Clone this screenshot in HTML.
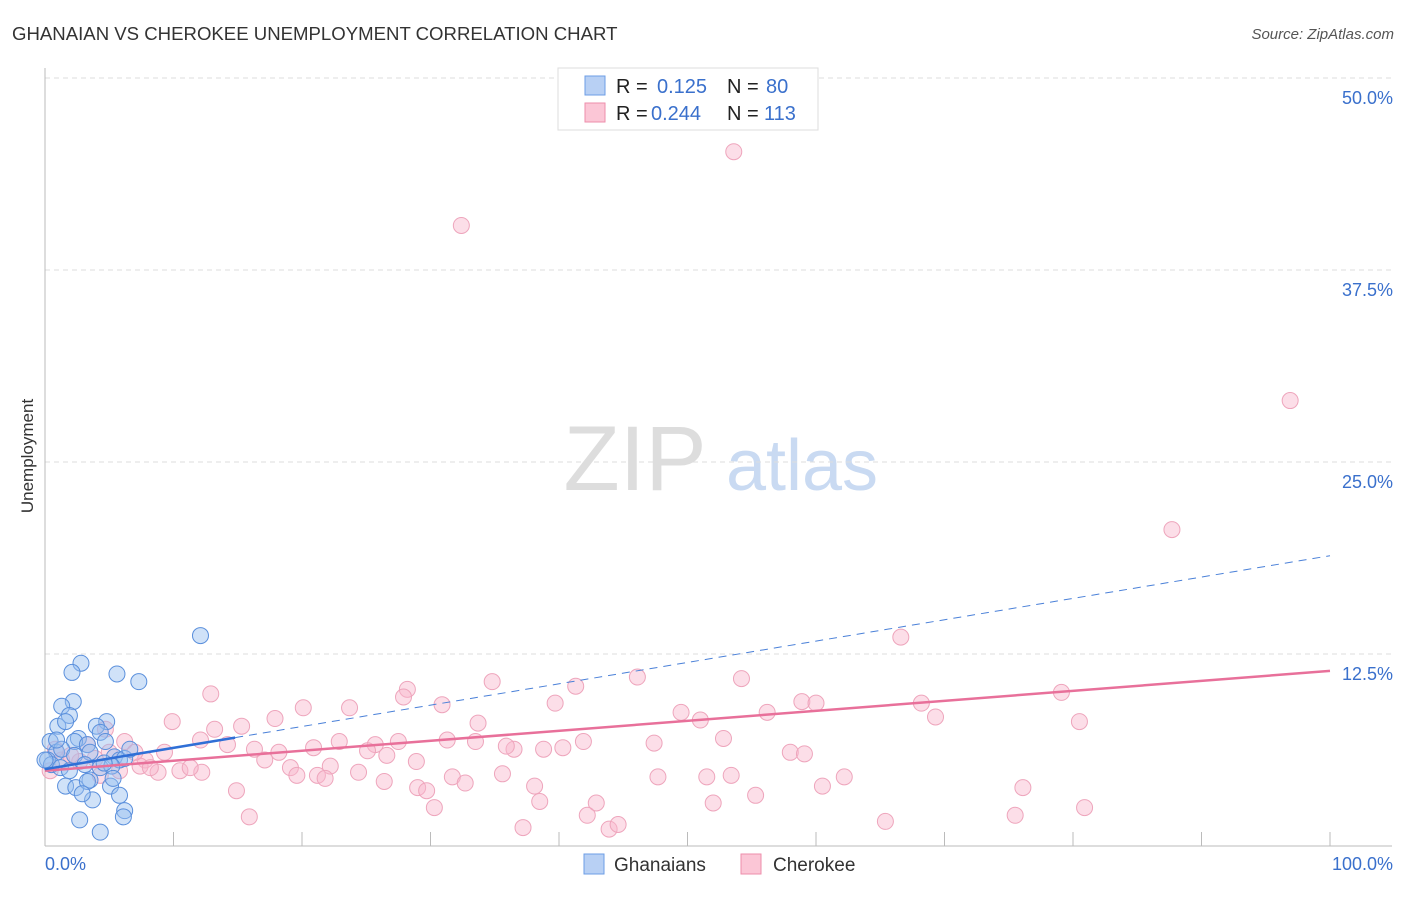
<!DOCTYPE html>
<html><head><meta charset="utf-8"><style>
body{margin:0;background:#fff;font-family:"Liberation Sans",sans-serif}
svg text{font-family:"Liberation Sans",sans-serif}
</style></head><body>
<svg width="1406" height="892" viewBox="0 0 1406 892">
<text x="12" y="40" font-size="18.6" fill="#333">GHANAIAN VS CHEROKEE UNEMPLOYMENT CORRELATION CHART</text>
<text x="1394" y="39" font-size="15" fill="#555" font-style="italic" text-anchor="end">Source: ZipAtlas.com</text>
<text x="33" y="456" font-size="17" fill="#333" transform="rotate(-90 33 456)" text-anchor="middle">Unemployment</text>
<g><text x="635" y="490" font-size="92" fill="#ddd" font-family="Liberation Serif" text-anchor="middle">ZIP</text><text x="802" y="490" font-size="72" fill="#c9daf2" text-anchor="middle">atlas</text></g>
<g id="grid"></g><g id="axes"></g><g id="pts"></g><g id="lines"></g>
<g>
<rect x="558" y="68" width="260" height="62" fill="#fff" stroke="#ddd"/>
<rect x="585" y="76" width="20" height="19" fill="#b8d0f4" stroke="#6c9ee6"/>
<rect x="585" y="103" width="20" height="19" fill="#fbc6d6" stroke="#ee8eab"/>
<text x="616" y="93" font-size="20" fill="#222">R = </text><text x="657" y="93" font-size="20" fill="#3a70cc">0.125</text>
<text x="727" y="93" font-size="20" fill="#222">N = </text><text x="766" y="93" font-size="20" fill="#3a70cc">80</text>
<text x="616" y="120" font-size="20" fill="#222">R = </text><text x="651" y="120" font-size="20" fill="#3a70cc">0.244</text>
<text x="727" y="120" font-size="20" fill="#222">N = </text><text x="764" y="120" font-size="20" fill="#3a70cc">113</text>
</g>
<g>
<rect x="584" y="854" width="20" height="20" fill="#b8d0f4" stroke="#6c9ee6"/><text x="614" y="871" font-size="19" fill="#333">Ghanaians</text>
<rect x="741" y="854" width="20" height="20" fill="#fbc6d6" stroke="#ee8eab"/><text x="773" y="871" font-size="19" fill="#333">Cherokee</text>
</g>
</svg>
<script>
const yTicks=[12.5,25,37.5,50];
const yTickLabels=["12.5%","25.0%","37.5%","50.0%"];
const xTickVals=[0,10,20,30,40,50,60,70,80,90,100];
const blueX=[12.1,2.8,2.1,5.6,7.3,2.2,1.3,1.9,4.8,4.0,1.0,1.6,4.3,2.6,2.3,3.3,4.7,0.4,0.9,1.3,2.3,3.5,5.4,5.8,6.2,0.2,0.5,1.2,1.9,3.1,4.3,5.2,1.6,2.4,3.5,3.3,5.1,4.6,3.7,5.8,6.2,6.1,2.7,4.3,5.3,2.9,0.9,0,6.6];
const blueY=[13.7,11.9,11.3,11.2,10.7,9.4,9.1,8.5,8.1,7.8,7.8,8.1,7.4,7.0,6.8,6.6,6.8,6.8,6.1,6.3,5.9,6.1,5.8,5.6,5.7,5.6,5.3,5.1,4.9,5.3,5.1,5.2,3.9,3.8,4.3,4.2,3.9,5.4,3.0,3.3,2.3,1.9,1.7,0.9,4.4,3.4,6.9,5.6,6.3];
const pinkX=[53.6,32.4,96.9,87.7,66.6,34.8,41.3,46.1,54.2,28.2,12.9,20.1,23.7,30.9,39.7,27.9,58.9,60.0,68.2,79.1,80.5,69.3,9.9,17.9,15.3,13.2,33.7,49.5,51.0,56.2,52.8,47.4,41.9,40.3,38.8,36.5,35.9,33.5,31.3,27.5,25.7,25.1,22.9,20.9,18.2,16.3,14.2,9.3,6.2,58.0,59.1,17.1,22.2,26.6,28.9,31.7,32.7,35.6,38.1,24.4,21.2,19.1,19.6,21.8,26.4,29.0,29.7,47.7,51.5,53.4,55.3,60.5,62.2,76.1,14.9,12.2,10.5,8.8,11.3,7.8,7.4,5.0,3.9,2.7,1.3,0.4,2.0,30.3,38.5,42.9,52.0,80.9,15.9,37.2,42.2,43.9,44.6,65.4,75.5,4.3,5.8,0.8,3.3,7.0,8.2,12.1,4.7];
const pinkY=[45.2,40.4,29.0,20.6,13.6,10.7,10.4,11.0,10.9,10.2,9.9,9.0,9.0,9.2,9.3,9.7,9.4,9.3,9.3,10.0,8.1,8.4,8.1,8.3,7.8,7.6,8.0,8.7,8.2,8.7,7.0,6.7,6.8,6.4,6.3,6.3,6.5,6.8,6.9,6.8,6.6,6.2,6.8,6.4,6.1,6.3,6.6,6.1,6.8,6.1,6.0,5.6,5.2,5.9,5.5,4.5,4.1,4.7,3.9,4.8,4.6,5.1,4.6,4.4,4.2,3.8,3.6,4.5,4.5,4.6,3.3,3.9,4.5,3.8,3.6,4.8,4.9,4.8,5.1,5.6,5.2,6.1,5.7,5.5,5.6,4.9,5.9,2.5,2.9,2.8,2.8,2.5,1.9,1.2,2.0,1.1,1.4,1.6,2.0,4.6,4.9,6.3,6.6,6.1,5.1,6.9,7.6];
const pinkTrend=[4.9,11.4];
const blueTrend=[5.0,18.9];
const NS="http://www.w3.org/2000/svg";
const sx=v=>45+v*12.85, sy=v=>846-v*15.36;
function mk(t,a,p){const e=document.createElementNS(NS,t);for(const k in a)e.setAttribute(k,a[k]);document.getElementById(p).appendChild(e);return e;}
yTicks.forEach((v,i)=>{
 const l=mk('line',{x1:45,x2:1392,y1:sy(v),y2:sy(v),stroke:'#ddd','stroke-dasharray':'5,4'},'grid');
 
 
 const t=mk('text',{x:1393,y:sy(v)+26,'font-size':18,fill:'#3a70cc','text-anchor':'end'},'grid');
 t.textContent=yTickLabels[i];
 
 
});
const ax=mk('line',{x1:45,x2:45,y1:68,y2:846,stroke:'#bbb'},'axes');


const bx=mk('line',{x1:45,x2:1392,y1:846,y2:846,stroke:'#bbb'},'axes');


xTickVals.forEach(v=>{const l=mk('line',{x1:sx(v),x2:sx(v),y1:832,y2:846,stroke:'#bbb'},'axes');
 
 });
const x0=mk('text',{x:45,y:870,'font-size':18,fill:'#3a70cc'},'axes');x0.textContent='0.0%';


const x1=mk('text',{x:1393,y:870,'font-size':18,fill:'#3a70cc','text-anchor':'end'},'axes');x1.textContent='100.0%';


pinkX.forEach((v,i)=>{const c=mk('circle',{cx:sx(v),cy:sy(pinkY[i]),r:8,fill:'rgba(248,182,204,0.45)',stroke:'#eea5bc','stroke-width':1},'pts');
 
 });
blueX.forEach((v,i)=>{const c=mk('circle',{cx:sx(v),cy:sy(blueY[i]),r:8,fill:'rgba(150,190,240,0.45)',stroke:'#5a8fdc','stroke-width':1},'pts');
 
 });
const pl=mk('line',{x1:sx(0),y1:sy(pinkTrend[0]),x2:sx(100),y2:sy(pinkTrend[1]),stroke:'#e8709a','stroke-width':2.5},'lines');


const bxe=14.8, byAt=v=>blueTrend[0]+(blueTrend[1]-blueTrend[0])*v/100;
const bd=mk('line',{x1:sx(bxe),y1:sy(byAt(bxe)),x2:sx(100),y2:sy(blueTrend[1]),stroke:'#4a80d8','stroke-width':1,'stroke-dasharray':'8,6'},'lines');


const bl=mk('line',{x1:sx(0),y1:sy(blueTrend[0]),x2:sx(bxe),y2:sy(byAt(bxe)),stroke:'#2f6fd6','stroke-width':2.5},'lines');


</script>
</body></html>
